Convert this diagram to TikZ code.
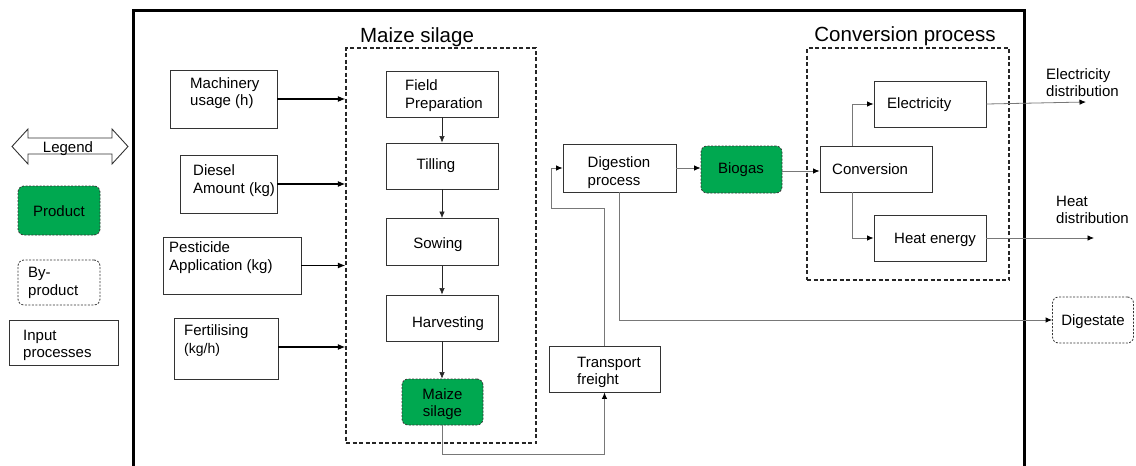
\documentclass[tikz,border=0pt]{standalone}
\usepackage{fontspec}
\setmainfont{Liberation Sans}
\usetikzlibrary{arrows.meta}
\definecolor{prodgreen}{RGB}{0,168,80}
\definecolor{lineg}{RGB}{120,120,120}
\begin{document}
\begin{tikzpicture}[x=1pt,y=-1pt,
  every node/.style={font=\fontsize{15}{17.5}\selectfont, inner sep=0pt},
  box/.style={draw=black!80, line width=0.9pt, rectangle},
  prod/.style={draw=black!80, line width=0.8pt, dash pattern=on 2pt off 1.5pt, fill=prodgreen, rounded corners=6pt},
  byprod/.style={draw=black!80, line width=0.8pt, dash pattern=on 2pt off 1.5pt, rounded corners=6pt},
  frame/.style={draw=black!85, line width=1.3pt, dash pattern=on 4pt off 2.5pt},
  lab/.style={yshift=-1.5pt},
  txt/.style={lab, align=left},
  title/.style={font=\fontsize{20.5}{24}\selectfont},
  arr/.style={-{Latex[length=7.5pt,width=6pt]}, line width=1.1pt, black},
  varr/.style={-{Latex[length=6.5pt,width=5.5pt]}, line width=0.6pt, black!85},
  garr/.style={-{Latex[length=6.5pt,width=5.5pt,color=black]}, line width=0.8pt, lineg}
]
\useasboundingbox (0,0) rectangle (1136,466);
% main frame
\draw[line width=3pt] (133,470) -- (133,10) -- (1024,10) -- (1024,470);

% legend
\draw[black!80, line width=0.9pt] (12,146.5) -- (28,129) -- (28,138) -- (112,138) -- (112,129) -- (128,146.5) -- (112,164) -- (112,154) -- (28,154) -- (28,164) -- cycle;
\node[lab] (legT) at (68,147) {Legend};
\node[prod, minimum width=82pt, minimum height=49pt] (lprod) at (59,210.5) {};
\node[lab] (lprodT) at (59,210) {Product};
\node[byprod, minimum width=82pt, minimum height=45pt] (lby) at (59,282.5) {};
\node[txt, anchor=west] (lbyT) at (28,281.5) {By-\\product};
\node[box, minimum width=109pt, minimum height=45pt] (linp) at (63.5,342.5) {};
\node[txt, anchor=west] (linpT) at (23,344) {Input\\processes};

% input boxes
\node[box, minimum width=107pt, minimum height=58pt] (mach) at (223.5,99) {};
\node[txt, anchor=west] (machT) at (190,91.5) {Machinery\\usage (h)};
\node[box, minimum width=97pt, minimum height=58pt] (dies) at (228.5,184) {};
\node[txt, anchor=west] (diesT) at (193,179) {Diesel\\Amount (kg)};
\node[box, minimum width=138pt, minimum height=57pt] (pest) at (232,265.5) {};
\node[txt, anchor=west] (pestT) at (169,256) {Pesticide\\Application (kg)};
\node[box, minimum width=104pt, minimum height=61pt] (fert) at (226,348.5) {};
\node[txt, anchor=west] (fertT) at (184,339) {Fertilising\\{\fontsize{14}{17.5}\selectfont(kg/h)}};

% maize silage frame
\node[frame, minimum width=190pt, minimum height=395pt] (msf) at (441,245.5) {};
\node[title] (msfT) at (417,37) {Maize silage};

\node[box, minimum width=112pt, minimum height=46pt] (fp) at (442,94) {};
\node[txt] (fpT) at (444,94) {Field\\Preparation};
\node[box, minimum width=112pt, minimum height=46pt] (till) at (442,166) {};
\node[lab] (tillT) at (436,164) {Tilling};
\node[box, minimum width=112pt, minimum height=47pt] (sow) at (442,242) {};
\node[lab] (sowT) at (438,243) {Sowing};
\node[box, minimum width=112pt, minimum height=46pt] (harv) at (442,318) {};
\node[lab] (harvT) at (448,322) {Harvesting};
\node[prod, minimum width=81pt, minimum height=46pt] (msil) at (442.5,402) {};
\node[lab, align=center] (msilT) at (442.5,402.5) {Maize\\silage};

% inputs -> frame
\draw[arr] (mach.east) -- (mach.east -| msf.west);
\draw[arr] (dies.east) -- (dies.east -| msf.west);
\draw[arr] (pest.east) -- (pest.east -| msf.west);
\draw[arr] ([yshift=1.5pt]fert.east) -- ([yshift=1.5pt]fert.east -| msf.west);

% vertical chain
\draw[varr] (fp.south) -- (till.north);
\draw[varr] (till.south) -- (sow.north);
\draw[varr] (sow.south) -- (harv.north);
\draw[varr] (harv.south) -- (harv.south |- msil.north);

% digestion etc
\node[box, minimum width=113pt, minimum height=48pt] (dig) at (619.5,168) {};
\node[txt] (digT) at (619,171) {Digestion\\process};
\node[prod, minimum width=81pt, minimum height=47pt] (bio) at (741.5,169.5) {};
\node[lab] (bioT) at (741,168) {Biogas};
\node[box, minimum width=111pt, minimum height=46pt] (trans) at (604.5,369) {};
\node[txt, anchor=west] (transT) at (577,371) {Transport\\freight};

\coordinate (c1) at (604.5,454);
\coordinate (c2) at (551,208);
\draw[garr] (msil.south) |- (c1) -- (trans.south);
\draw[garr] (trans.north) |- (c2) |- (dig.west);
\draw[garr] (dig.east) -- (dig.east -| bio.west);

% conversion
\node[frame, minimum width=202pt, minimum height=232pt] (cpf) at (908,164) {};
\node[title] (cpfT) at (905,36) {Conversion process};
\node[box, minimum width=112pt, minimum height=46pt] (conv) at (876,169) {};
\node[lab, anchor=west] (convT) at (832,168) {Conversion};
\node[box, minimum width=112pt, minimum height=46pt] (elec) at (930,104) {};
\node[lab, anchor=west] (elecT) at (887,103) {Electricity};
\node[box, minimum width=112pt, minimum height=46pt] (heat) at (930,238) {};
\node[lab, anchor=west] (heatT) at (894,238) {Heat energy};

\draw[garr] ([yshift=-1.5pt]bio.east) -- ([yshift=-1.5pt]bio.east -| conv.west);
\draw[garr] ([xshift=-24pt]conv.north) |- (elec.west);
\draw[garr] ([xshift=-24pt]conv.south) |- (heat.west);

\coordinate (eld) at (1086,102);
\coordinate (htd) at (1094,238);
\draw[garr] (elec.east) -- (eld);
\draw[garr] (heat.east) -- (htd);
\node[txt, anchor=west] (eldT) at (1046,81) {Electricity\\distribution};
\node[txt, anchor=west] (htdT) at (1056,208.5) {Heat\\distribution};

% digestate
\node[byprod, minimum width=81pt, minimum height=46pt] (dst) at (1093,320) {};
\node[lab] (dstT) at (1093,320) {Digestate};
\draw[garr] (dig.south) |- (dst.west);
\end{tikzpicture}
\end{document}
